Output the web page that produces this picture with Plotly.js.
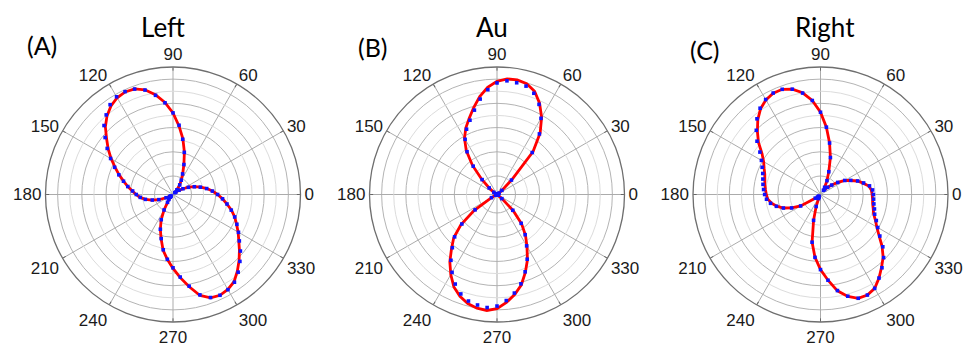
<!DOCTYPE html>
<html>
<head>
<meta charset="utf-8">
<script src="https://cdn.plot.ly/plotly-3.0.1.min.js"></script>
<style>html,body{margin:0;padding:0;background:#fff}#chart{width:965px;height:346px}</style>
</head>
<body>
<div id="chart"></div>
<script>
// Angles (degrees) of the measured points / fitted curve samples
const theta = [0,5,10,15,20,25,30,35,40,45,50,55,60,65,70,75,80,85,90,95,100,105,110,115,120,125,130,135,140,145,150,155,160,165,170,175,180,185,190,195,200,205,210,215,220,225,230,235,240,245,250,255,260,265,270,275,280,285,290,295,300,305,310,315,320,325,330,335,340,345,350,355];

// Angular tick labels
const angTickVals = [0,30,60,90,120,150,180,210,240,270,300,330];
const angTickText = ["0","30","60","90","120","150","180","210","240","270","300","330"];

// Panel titles
const panelTitles = ["Left","Au","Right"];
const panelLetters = ["(A)","(B)","(C)"];

// (A) Left — fitted curve and measured points (normalised intensity)
const fitA  = [.35,.31,.27,.225,.18,.135,.09,.06,.03,.02,.05,.09,.13,.18,.25,.345,.445,.54,.64,.725,.795,.85,.882,.888,.876,.848,.805,.75,.68,.62,.56,.50,.45,.40,.36,.32,.29,.26,.22,.17,.12,.06,.03,.02,.02,.03,.05,.075,.14,.22,.29,.36,.445,.51,.58,.655,.735,.82,.862,.872,.86,.835,.785,.733,.68,.63,.59,.55,.515,.475,.43,.39];
const dataA = [.35,.31,.268,.222,.178,.133,.09,.058,.03,.02,.048,.092,.13,.178,.25,.342,.44,.545,.64,.722,.79,.848,.88,.89,.885,.86,.815,.765,.695,.63,.565,.505,.452,.402,.36,.318,.288,.258,.22,.168,.118,.06,.03,.02,.02,.03,.05,.075,.14,.218,.29,.358,.44,.51,.575,.65,.73,.815,.86,.872,.862,.84,.795,.742,.69,.635,.593,.553,.515,.473,.43,.39];

// (B) Au
const fitB  = [.01,.01,.01,.01,.01,.01,.01,.02,.05,.17,.44,.59,.70,.79,.862,.90,.913,.91,.888,.843,.78,.706,.637,.578,.51,.42,.30,.17,.08,.03,.01,.01,.01,.01,.01,.01,.01,.01,.01,.01,.01,.01,.05,.22,.37,.48,.555,.645,.725,.80,.85,.885,.905,.913,.896,.85,.797,.735,.65,.565,.47,.39,.30,.18,.05,.01,.01,.01,.01,.01,.01,.01];
const dataB = [.01,.01,.01,.01,.01,.01,.01,.02,.05,.16,.43,.58,.69,.78,.845,.88,.89,.895,.875,.825,.76,.685,.62,.565,.50,.41,.29,.165,.08,.03,.01,.01,.01,.01,.01,.01,.01,.01,.01,.01,.01,.01,.05,.21,.36,.47,.545,.63,.705,.775,.83,.865,.88,.89,.875,.835,.785,.725,.645,.56,.465,.385,.295,.175,.05,.01,.01,.01,.01,.01,.01,.01];

// (C) Right
const fitC  = [.405,.40,.385,.345,.31,.26,.22,.165,.115,.08,.05,.04,.065,.12,.19,.30,.41,.53,.645,.74,.81,.855,.878,.877,.857,.82,.765,.70,.635,.56,.515,.488,.465,.452,.443,.433,.425,.415,.39,.355,.31,.25,.18,.05,.03,.02,.02,.02,.025,.035,.10,.21,.38,.495,.589,.675,.767,.828,.866,.87,.85,.80,.745,.695,.63,.56,.51,.475,.443,.428,.415,.41];
const dataC = [.415,.41,.39,.35,.31,.262,.22,.165,.115,.08,.05,.04,.065,.12,.19,.30,.41,.53,.645,.74,.808,.855,.878,.878,.86,.826,.775,.712,.65,.58,.535,.505,.482,.468,.458,.448,.438,.425,.398,.358,.31,.25,.18,.05,.03,.02,.02,.02,.025,.035,.10,.21,.38,.495,.589,.675,.765,.826,.866,.87,.85,.80,.75,.70,.638,.568,.518,.483,.452,.438,.425,.418];

const fits = [fitA, fitB, fitC];
const datas = [dataA, dataB, dataC];

// layout geometry (pixels -> paper)
const W = 965, H = 346, R = 127.5;
const centers = [[173,194.5],[497,194.5],[820.5,194.5]];
const gridAll = [0.145,0.24,0.335,0.43,0.525,0.62,0.715,0.81,0.905];
const gridDark = gridAll.filter((v,i)=>i%2===0);
const gridLight = gridAll.filter((v,i)=>i%2===1);

const traces = [];
const layout = {
  width: W, height: H,
  margin: {l:0,r:0,t:0,b:0},
  paper_bgcolor: '#ffffff',
  showlegend: false,
  annotations: []
};

function closeLoop(a){ return a.concat([a[0]]); }

const titleX = [163, 492, 825];
const letterX = [42, 373, 705];
const letterY = [45, 47, 50];

for (let p = 0; p < 3; p++) {
  const gid = p === 0 ? 'polar' : 'polar' + (2*p + 1);
  const did = 'polar' + (2*p + 2);
  const [cx, cy] = centers[p];
  const dom = {
    x: [(cx - R) / W, (cx + R) / W],
    y: [(H - cy - R) / H, (H - cy + R) / H]
  };
  // grid-only polar (darker circles)
  layout[gid] = {
    domain: dom,
    bgcolor: '#ffffff',
    radialaxis: {range:[0,1], tickmode:'array', tickvals: gridDark, showticklabels:false, ticks:'', showline:false, gridcolor:'#b4b4b4', gridwidth:1},
    angularaxis: {showgrid:false, showticklabels:false, ticks:'', showline:false}
  };
  // data polar
  layout[did] = {
    domain: dom,
    bgcolor: 'rgba(0,0,0,0)',
    radialaxis: {range:[0,1], tickmode:'array', tickvals: gridLight, showticklabels:false, ticks:'', showline:false, gridcolor:'#dcdcdc', gridwidth:1},
    angularaxis: {
      rotation: 0, direction: 'counterclockwise',
      tickmode: 'array', tickvals: angTickVals, ticktext: angTickText,
      tickfont: {family: 'Liberation Sans, Arial, sans-serif', size: 17, color: '#1a1a1a'},
      ticks: 'inside', ticklen: 3, tickcolor: '#666',
      showline: true, linecolor: '#6e6e6e', linewidth: 1.3,
      gridcolor: '#ababab', gridwidth: 1
    }
  };
  traces.push({type:'scatterpolar', subplot: gid, r: [], theta: [], mode:'lines', hoverinfo:'skip'});
  traces.push({
    type: 'scatterpolar', subplot: did,
    r: closeLoop(fits[p]), theta: closeLoop(theta),
    mode: 'lines', line: {color: '#ff0000', width: 2.8}, hoverinfo: 'skip'
  });
  traces.push({
    type: 'scatterpolar', subplot: did,
    r: datas[p], theta: theta,
    mode: 'markers', marker: {color: '#1010ff', size: 3.6, symbol: 'square'}, hoverinfo: 'skip'
  });
  layout.annotations.push({
    xref:'paper', yref:'paper', x: titleX[p]/W, y: (H-27)/H, xanchor:'center', yanchor:'middle',
    text: panelTitles[p], showarrow:false, font:{family:'Lato, Open Sans, sans-serif', size:26, color:'#000'}
  });
  layout.annotations.push({
    xref:'paper', yref:'paper', x: letterX[p]/W, y: (H-letterY[p])/H, xanchor:'center', yanchor:'middle',
    text: panelLetters[p], showarrow:false, font:{family:'Lato, Open Sans, sans-serif', size:25, color:'#000'}
  });
}

Plotly.newPlot('chart', traces, layout, {staticPlot: true, displayModeBar: false});
</script>
</body>
</html>
